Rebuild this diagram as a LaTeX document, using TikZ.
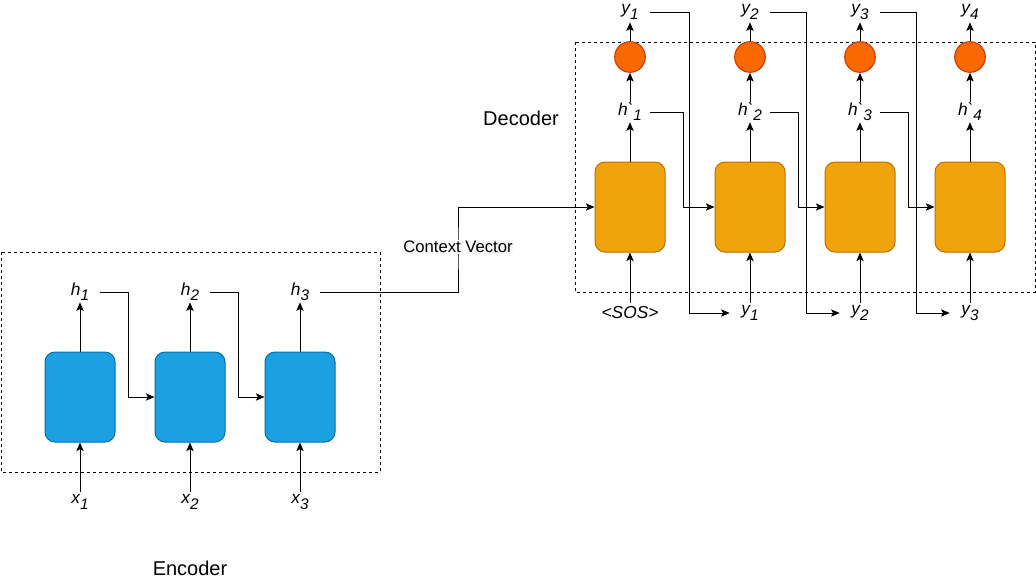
\documentclass[tikz,border=0pt]{standalone}
\usepackage{fontspec}
\setmainfont{Liberation Sans}
\usetikzlibrary{arrows.meta}
\definecolor{encfill}{HTML}{1BA1E2}
\definecolor{encdraw}{HTML}{006EAF}
\definecolor{decfill}{HTML}{F0A30A}
\definecolor{decdraw}{HTML}{BD7000}
\definecolor{outfill}{HTML}{FA6800}
\definecolor{outdraw}{HTML}{C73500}
\definecolor{lblbg}{HTML}{F8F9FA}
% subscript index in the style of the variable labels
\newcommand\subidx[1]{\raisebox{-0.3em}{\fontsize{11.5}{11.5}\selectfont #1}}
\begin{document}
\begin{tikzpicture}[x=0.75pt,y=-0.75pt,
  cell/.style={rounded corners=7.5pt, minimum width=52.5pt, minimum height=67.5pt, line width=0.75pt},
  enccell/.style={cell, fill=encfill, draw=encdraw},
  deccell/.style={cell, fill=decfill, draw=decdraw},
  outnode/.style={circle, fill=outfill, draw=outdraw, line width=0.75pt, minimum size=23pt, inner sep=0pt},
  var/.style={inner sep=0pt, minimum width=30pt, minimum height=15pt, font=\fontsize{13}{14}\selectfont\itshape},
  frame/.style={draw, dash pattern=on 2.25pt off 2.25pt, line width=0.75pt},
  arr/.style={draw, line width=0.75pt, -{Stealth[length=6.5pt,width=5.5pt,inset=1.5pt]}},
  title/.style={font=\fontsize{15}{18}\selectfont},
]
\useasboundingbox (0,0) rectangle (1036,583);

% group frames
\draw[frame] (1,252) rectangle (380,472);
\draw[frame] (575,42) rectangle (1035,292);

% ---------------- encoder ----------------
\node[enccell] (e1) at (80,397) {};
\node[enccell] (e2) at (190,397) {};
\node[enccell] (e3) at (300,397) {};

\node[var] (h1) at (80,292) {h\subidx{1}};
\node[var] (h2) at (190,292) {h\subidx{2}};
\node[var] (h3) at (300,292) {h\subidx{3}};

\node[var] (x1) at (80,502) {x\subidx{1}};
\node[var] (x2) at (190,502) {x\subidx{2}};
\node[var] (x3) at (300,502) {x\subidx{3}};

\foreach \i in {1,2,3} {
  \draw[arr] (e\i.north) -- (h\i.south);
  \draw[arr] (x\i.north) -- (e\i.south);
}
\draw[arr] (h1.east) -- ++(28,0) |- (e2.west);
\draw[arr] (h2.east) -- ++(28,0) |- (e3.west);

% ---------------- decoder ----------------
\node[deccell] (d1) at (630,207) {};
\node[deccell] (d2) at (750,207) {};
\node[deccell] (d3) at (860,207) {};
\node[deccell] (d4) at (970,207) {};

\node[outnode] (o1) at (630,57) {};
\node[outnode] (o2) at (750,57) {};
\node[outnode] (o3) at (860,57) {};
\node[outnode] (o4) at (970,57) {};

\node[var] (hp1) at (630,112) {h\textasciigrave\subidx{1}};
\node[var] (hp2) at (750,112) {h\textasciigrave\subidx{2}};
\node[var] (hp3) at (860,112) {h\textasciigrave\subidx{3}};
\node[var] (hp4) at (970,112) {h\textasciigrave\subidx{4}};

\node[var] (yt1) at (630,12) {y\subidx{1}};
\node[var] (yt2) at (750,12) {y\subidx{2}};
\node[var] (yt3) at (860,12) {y\subidx{3}};
\node[var] (yt4) at (970,12) {y\subidx{4}};

\node[var] (sos) at (630,313) {<SOS>};
\node[var] (yb1) at (750,313) {y\subidx{1}};
\node[var] (yb2) at (860,313) {y\subidx{2}};
\node[var] (yb3) at (970,313) {y\subidx{3}};

\foreach \i in {1,2,3,4} {
  \draw[arr] (d\i.north) -- (hp\i.south);
  \draw[arr] (hp\i.north) -- (o\i.south);
  \draw[arr] (o\i.north) -- (yt\i.south);
}
\draw[arr] (sos.north) -- (d1.south);
\draw[arr] (yb1.north) -- (d2.south);
\draw[arr] (yb2.north) -- (d3.south);
\draw[arr] (yb3.north) -- (d4.south);

% hidden state carried to the next decoder step
\draw[arr] (hp1.east) -- ++(33,0) |- (d2.west);
\draw[arr] (hp2.east) -- ++(28,0) |- (d3.west);
\draw[arr] (hp3.east) -- ++(28,0) |- (d4.west);

% previous output fed back as next input
\draw[arr] (yt1.east) -- ++(39,0) |- (yb1.west);
\draw[arr] (yt2.east) -- ++(36,0) |- (yb2.west);
\draw[arr] (yt3.east) -- ++(36,0) |- (yb3.west);

% context vector from encoder to decoder
\coordinate (cvpos) at (458,247);
\draw[arr] (h3.east) -| (cvpos) |- (d1.west);
\node[fill=lblbg, inner sep=1pt, font=\fontsize{12.5}{14}\selectfont] (cv) at (cvpos) {Context Vector};

% titles
\node[title] (enc) at (190,568) {Encoder};
\node[title] (dec) at (521,118) {Decoder};
\end{tikzpicture}
\end{document}
